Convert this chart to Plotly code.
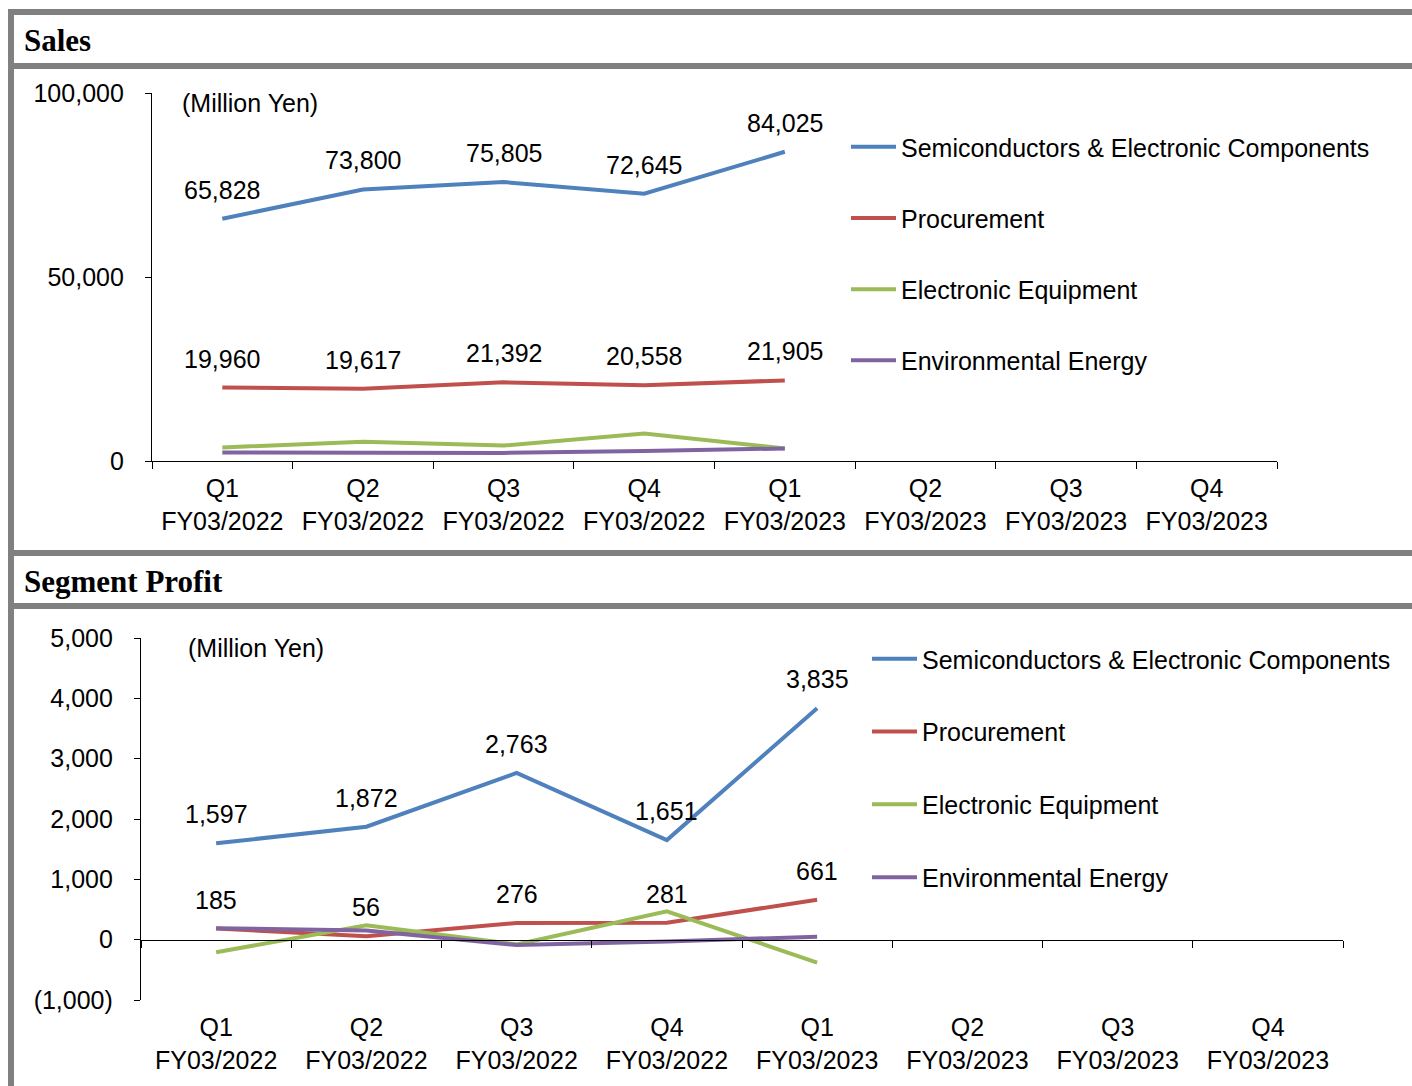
import plotly.graph_objects as go

W, H = 1412, 1086

quarters = ["Q1<br>FY03/2022", "Q2<br>FY03/2022", "Q3<br>FY03/2022", "Q4<br>FY03/2022",
            "Q1<br>FY03/2023", "Q2<br>FY03/2023", "Q3<br>FY03/2023", "Q4<br>FY03/2023"]
series_names = ["Semiconductors & Electronic Components", "Procurement",
                "Electronic Equipment", "Environmental Energy"]
colors = ["#4F81BD", "#C0504D", "#9BBB59", "#8064A2"]

sales_semi = [65828, 73800, 75805, 72645, 84025]
sales_proc = [19960, 19617, 21392, 20558, 21905]
sales_elec = [3700, 5200, 4200, 7500, 3400]
sales_env = [2300, 2300, 2200, 2700, 3400]

profit_semi = [1597, 1872, 2763, 1651, 3835]
profit_proc = [185, 56, 276, 281, 661]
profit_elec = [-210, 240, -80, 470, -380]
profit_env = [190, 150, -90, -30, 50]

sales_ticks = [0, 50000, 100000]
sales_ticktext = ["0", "50,000", "100,000"]
profit_ticks = [-1000, 0, 1000, 2000, 3000, 4000, 5000]
profit_ticktext = ["(1,000)", "0", "1,000", "2,000", "3,000", "4,000", "5,000"]
sales_range = [0, 100000]
profit_range = [-1000, 5000]

FONT = "Liberation Sans, Arial, sans-serif"
SERIF = "Liberation Serif, Times New Roman, serif"
FS = 25


def fx(x):
    return x / W


def fy(y):
    return 1 - y / H


fig = go.Figure()

sales_data = [sales_semi, sales_proc, sales_elec, sales_env]
profit_data = [profit_semi, profit_proc, profit_elec, profit_env]

for i, (name, vals) in enumerate(zip(series_names, sales_data)):
    fig.add_trace(go.Scatter(
        x=quarters[:len(vals)], y=vals, mode="lines", name=name,
        line=dict(color=colors[i], width=4), xaxis="x", yaxis="y",
        legend="legend", legendgroup="s%d" % i, hoverinfo="skip"))

for i, (name, vals) in enumerate(zip(series_names, profit_data)):
    fig.add_trace(go.Scatter(
        x=quarters[:len(vals)], y=vals, mode="lines", name=name,
        line=dict(color=colors[i], width=4), xaxis="x2", yaxis="y2",
        legend="legend2", legendgroup="p%d" % i, hoverinfo="skip"))

# invisible trace carrying the zero-line axis of the profit chart
fig.add_trace(go.Scatter(x=quarters, y=[None] * len(quarters), mode="lines",
                         xaxis="x3", yaxis="y2", showlegend=False, hoverinfo="skip"))

annotations = []
for vals, xr, yr in [(sales_semi, "x", "y"), (sales_proc, "x", "y"),
                     (profit_semi, "x2", "y2"), (profit_proc, "x2", "y2")]:
    for q, v in zip(quarters, vals):
        annotations.append(dict(x=q, y=v, xref=xr, yref=yr, text=f"{v:,}",
                                showarrow=False, yshift=29,
                                font=dict(family=FONT, size=FS, color="black")))

annotations.append(dict(x=fx(180), y=fy(103), xref="paper", yref="paper", text="(Million Yen)",
                        showarrow=False, xanchor="left", yanchor="middle",
                        font=dict(family=FONT, size=FS, color="black")))
annotations.append(dict(x=fx(186), y=fy(648), xref="paper", yref="paper", text="(Million Yen)",
                        showarrow=False, xanchor="left", yanchor="middle",
                        font=dict(family=FONT, size=FS, color="black")))
annotations.append(dict(x=fx(22), y=fy(41), xref="paper", yref="paper", text="<b>Sales</b>",
                        showarrow=False, xanchor="left", yanchor="middle",
                        font=dict(family=SERIF, size=31, color="black")))
annotations.append(dict(x=fx(22), y=fy(581), xref="paper", yref="paper", text="<b>Segment Profit</b>",
                        showarrow=False, xanchor="left", yanchor="middle",
                        font=dict(family=SERIF, size=31, color="black")))

GRAY = "#808080"
shapes = [
    dict(type="rect", xref="paper", yref="paper", x0=fx(8), x1=fx(14), y0=fy(1086), y1=fy(9),
         fillcolor=GRAY, line=dict(width=0), layer="below"),
    dict(type="rect", xref="paper", yref="paper", x0=fx(8), x1=1, y0=fy(15), y1=fy(9),
         fillcolor=GRAY, line=dict(width=0), layer="below"),
    dict(type="rect", xref="paper", yref="paper", x0=fx(8), x1=1, y0=fy(69), y1=fy(63),
         fillcolor=GRAY, line=dict(width=0), layer="below"),
    dict(type="rect", xref="paper", yref="paper", x0=fx(8), x1=1, y0=fy(556), y1=fy(550),
         fillcolor=GRAY, line=dict(width=0), layer="below"),
    dict(type="rect", xref="paper", yref="paper", x0=fx(8), x1=1, y0=fy(609), y1=fy(603),
         fillcolor=GRAY, line=dict(width=0), layer="below"),
]

tickfont = dict(family=FONT, size=FS, color="black")

y2_dom = [fy(1000), fy(638)]
zero_pos = y2_dom[0] + (0 - profit_range[0]) / (profit_range[1] - profit_range[0]) * (y2_dom[1] - y2_dom[0])

common_x = dict(type="category", categoryorder="array", categoryarray=quarters,
                range=[-0.5, len(quarters) - 0.5], showgrid=False, zeroline=False,
                tickfont=tickfont, fixedrange=True, automargin=False)

fig.update_layout(
    width=W, height=H, margin=dict(l=0, r=0, t=0, b=0, pad=0, autoexpand=False),
    paper_bgcolor="white", plot_bgcolor="rgba(0,0,0,0)",
    font=dict(family=FONT, size=FS, color="black"),
    xaxis=dict(domain=[fx(152), fx(1277)], anchor="y", showline=True, linecolor="black",
               linewidth=1.3, ticks="outside", tickson="boundaries", ticklen=7,
               tickcolor="black", ticklabelstandoff=5, **common_x),
    yaxis=dict(domain=[fy(461), fy(93)], anchor="x", range=sales_range, tickvals=sales_ticks,
               ticktext=sales_ticktext, showline=True, linecolor="black", linewidth=1.3,
               ticks="outside", ticklen=6, tickcolor="black", showgrid=False, zeroline=False,
               tickfont=tickfont, ticklabelstandoff=16, automargin=False),
    xaxis2=dict(domain=[fx(141), fx(1343)], anchor="y2", showline=False, ticks="",
                ticklabelstandoff=10, **common_x),
    xaxis3=dict(domain=[fx(141), fx(1343)], anchor="free", position=zero_pos, overlaying="x2",
                showline=True, linecolor="black", linewidth=1.3, ticks="outside",
                tickson="boundaries", ticklen=7, tickcolor="black", showticklabels=False,
                **common_x),
    yaxis2=dict(domain=y2_dom, anchor="x2", range=profit_range, tickvals=profit_ticks,
                ticktext=profit_ticktext, showline=True, linecolor="black", linewidth=1.3,
                ticks="outside", ticklen=6, tickcolor="black", showgrid=False, zeroline=False,
                tickfont=tickfont, ticklabelstandoff=16, automargin=False),
    legend=dict(x=fx(846), y=fy(124), xanchor="left", yanchor="top", bgcolor="rgba(0,0,0,0)",
                font=dict(family=FONT, size=FS, color="black"), traceorder="grouped",
                tracegroupgap=35.7, itemwidth=45),
    legend2=dict(x=fx(867), y=fy(636), xanchor="left", yanchor="top", bgcolor="rgba(0,0,0,0)",
                 font=dict(family=FONT, size=FS, color="black"), traceorder="grouped",
                 tracegroupgap=37.3, itemwidth=45),
    annotations=annotations, shapes=shapes, showlegend=True,
)

fig.write_html("out.html")
